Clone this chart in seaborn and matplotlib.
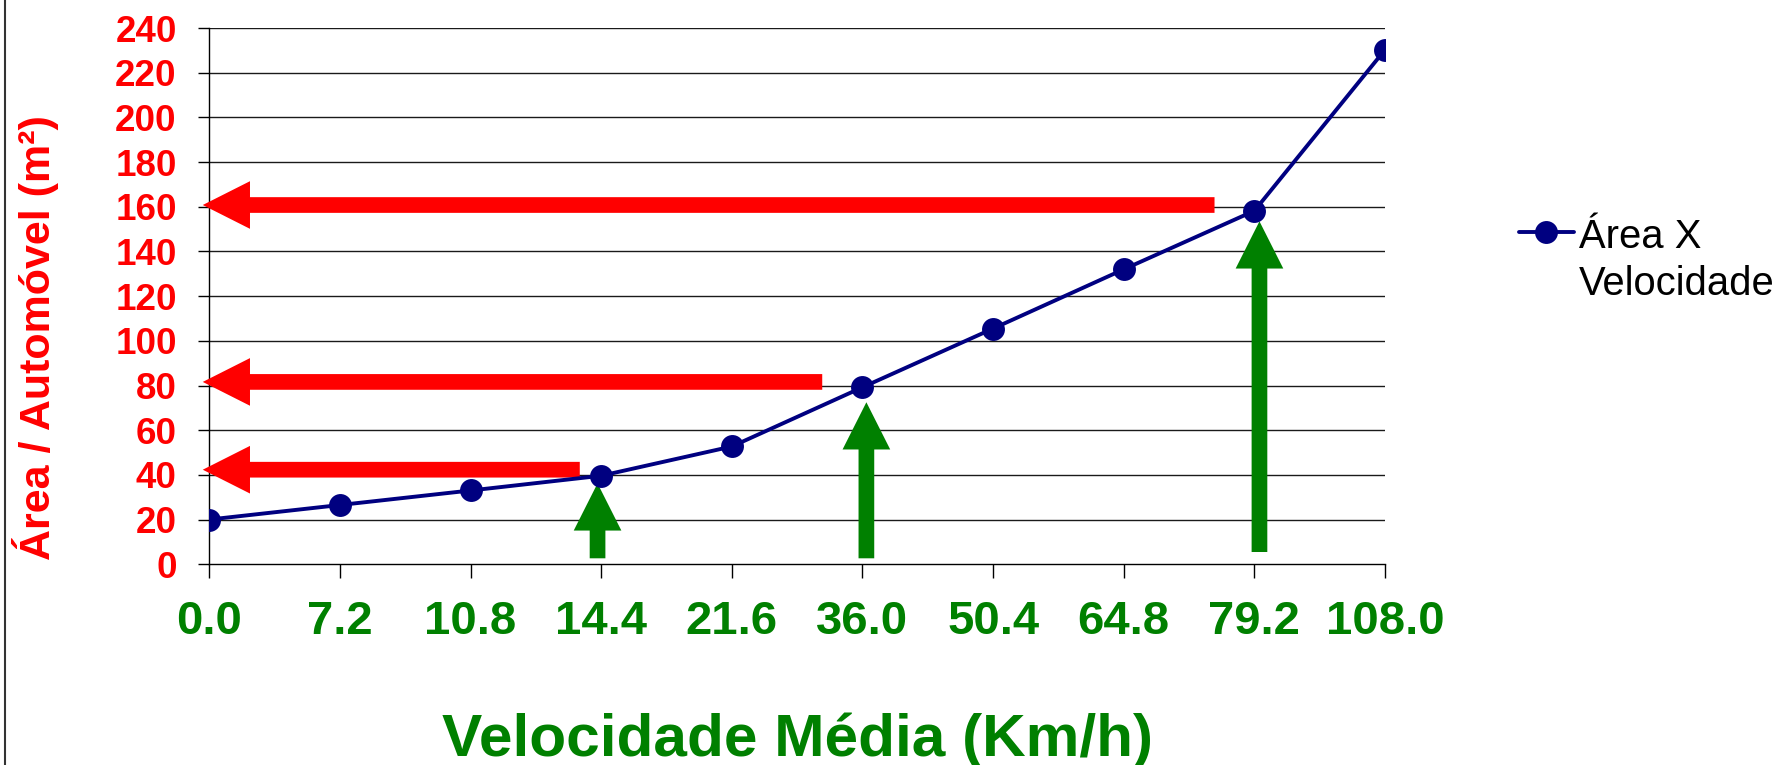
import matplotlib
matplotlib.use("Agg")
import matplotlib.pyplot as plt
from matplotlib.patches import ArrowStyle
from matplotlib.lines import Line2D
import seaborn as sns

# ---- data -------------------------------------------------------------
speed_labels = ["0.0", "7.2", "10.8", "14.4", "21.6", "36.0", "50.4", "64.8", "79.2", "108.0"]
area_values = [20, 26.5, 33, 39.6, 52.7, 79.2, 105.5, 132, 158.2, 230.3]
y_ticks = list(range(0, 241, 20))
series_label = "Área X\nVelocidade"
x_title = "Velocidade Média (Km/h)"
y_title = "Área / Automóvel (m²)"

# annotation arrows (data units: x in category index, y in m²)
red_arrow_y = [160.8, 81.6, 42.3]
red_arrow_tail_x = [7.695, 4.692, 2.836]
red_arrow_tip_x = -0.05
green_arrow_x = [2.972, 5.030, 8.039]
green_arrow_tip_y = [36.2, 72.5, 153.5]
green_arrow_base_y = [2.64, 2.64, 5.46]

RED = "#FF0000"
GREEN = "#008000"
NAVY = "#000080"

sns.set_theme(style="white")
plt.rcParams["font.family"] = ["Liberation Sans", "DejaVu Sans"]
plt.rcParams["text.color"] = "black"

W, H = 1777, 765
fig = plt.figure(figsize=(W / 100, H / 100), dpi=100)
ax = fig.add_axes([209.3 / W, 1 - 564.2 / H, (1385 - 209.3) / W, (564.2 - 28.1) / H])

sns.lineplot(x=speed_labels, y=area_values, sort=False, marker="o", markersize=16.5,
             markeredgewidth=0, linewidth=2.8, color=NAVY, label=series_label,
             ax=ax, zorder=4)

ax.set_xlim(0, 9)
ax.set_ylim(0, 240)
ax.set_yticks(y_ticks)
ax.set_xticks(range(len(speed_labels)))
ax.set_xticklabels(speed_labels)

ax.grid(False)
for yv in y_ticks[1:]:
    ax.axhline(yv, color="#1a1a1a", lw=1.0, zorder=1)

for s in ["top", "right"]:
    ax.spines[s].set_visible(False)
for s in ["left", "bottom"]:
    ax.spines[s].set_color("black")
    ax.spines[s].set_linewidth(1.0)

ax.tick_params(axis="y", which="major", direction="out", length=8, width=1, color="black",
               pad=15.5, labelsize=26.5, labelcolor=RED, left=True)
ax.tick_params(axis="x", which="major", direction="out", length=10, width=1, color="black",
               pad=16, labelsize=34, labelcolor=GREEN, bottom=True)
for lab in ax.get_yticklabels():
    lab.set_fontweight("bold")
for lab in ax.get_xticklabels():
    lab.set_fontweight("bold")

ax.set_xlabel(x_title, fontsize=43.5, fontweight="bold", color=GREEN, va="baseline")
ax.xaxis.set_label_coords(0.5, (564.2 - 756) / (564.2 - 28.1))
ax.set_ylabel(y_title, fontsize=31, fontweight="bold", color=RED, va="baseline")
ax.yaxis.set_label_coords((50 - 209.3) / (1385 - 209.3), (564.2 - 338) / (564.2 - 28.1))

# arrows
style = ArrowStyle.Simple(head_length=34, head_width=34.3, tail_width=11.3)
for yv, tx in zip(red_arrow_y, red_arrow_tail_x):
    ax.annotate("", xy=(red_arrow_tip_x, yv), xytext=(tx, yv), annotation_clip=False,
                arrowprops=dict(arrowstyle=style, mutation_scale=1, color=RED, lw=0,
                                shrinkA=0, shrinkB=0, clip_on=False), zorder=3)
for xv, ty, by in zip(green_arrow_x, green_arrow_tip_y, green_arrow_base_y):
    ax.annotate("", xy=(xv, ty), xytext=(xv, by), annotation_clip=False,
                arrowprops=dict(arrowstyle=style, mutation_scale=1, color=GREEN, lw=0,
                                shrinkA=0, shrinkB=0, clip_on=False), zorder=3)

# legend
handles, labels = ax.get_legend_handles_labels()
if ax.get_legend() is not None:
    ax.get_legend().remove()
fs_leg = 28.8
leg = fig.legend(handles, labels, loc="upper left", bbox_to_anchor=(1519 / W, 1 - 218 / H),
                 frameon=False, fontsize=fs_leg, borderpad=0, borderaxespad=0,
                 handlelength=1.37, handletextpad=0.13, labelcolor="black")
for t in leg.get_texts():
    t.set_linespacing(1.3)
# align the marker with the first text line (top alignment)
try:
    for col in leg._legend_handle_box.get_children():
        for row in col.get_children():
            row.align = "top"
except Exception:
    pass

# left frame border
fig.add_artist(Line2D([5 / W, 5 / W], [0, 1], transform=fig.transFigure, color="#333333", lw=1.5))

fig.savefig("out.png", dpi=100)
